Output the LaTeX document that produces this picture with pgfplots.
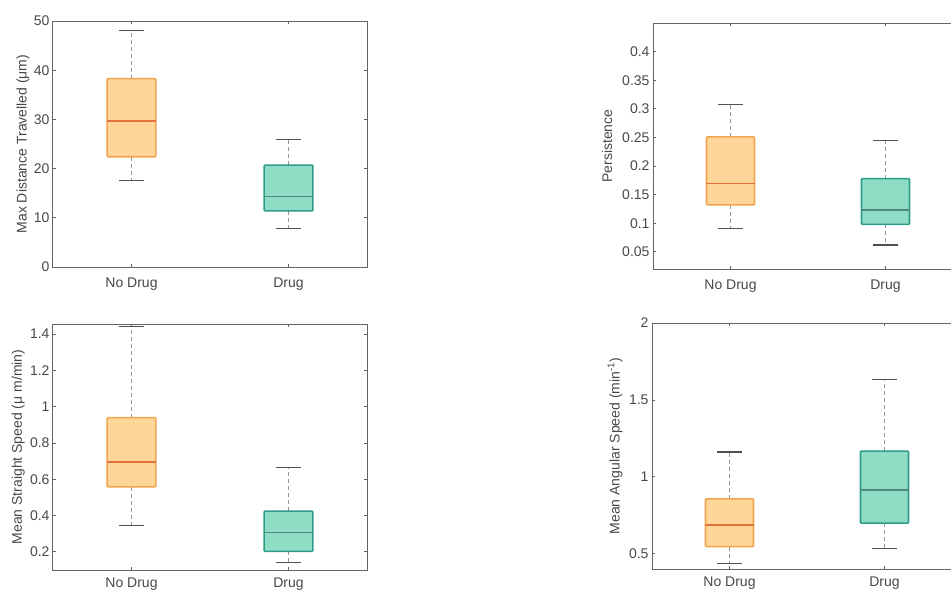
\documentclass[border=0pt]{standalone}
\usepackage{fontspec}
\setmainfont{Liberation Sans}
\usepackage{pgfplots}
\pgfplotsset{compat=1.18}
\usepgfplotslibrary{statistics}

\definecolor{ofill}{RGB}{255,214,153}
\definecolor{oedge}{RGB}{240,165,80}
\definecolor{omed}{RGB}{226,115,58}
\definecolor{tfill}{RGB}{143,221,197}
\definecolor{tedge}{RGB}{46,156,136}
\definecolor{tmed}{RGB}{79,138,124}
\definecolor{axgray}{RGB}{100,100,100}
\definecolor{txtgray}{RGB}{72,72,72}
\definecolor{wgray}{RGB}{150,150,150}
\definecolor{cgray}{RGB}{80,80,80}

\pgfplotsset{
  myax/.style={
    scale only axis,
    xmin=0.5, xmax=2.5,
    xtick={1,2}, xticklabels={No Drug, Drug},
    tick align=inside,
    major tick length=3pt,
    axis line style={draw=axgray, line width=1pt},
    tick style={draw=axgray, line width=0.7pt},
    scaled ticks=false,
    yticklabel style={/pgf/number format/fixed, /pgf/number format/precision=2},
    /pgf/number format/assume math mode=true,
    /pgf/number format/1000 sep={},
    tick label style={font=\fontsize{14}{16}\selectfont, text=txtgray},
    label style={font=\fontsize{14}{16}\selectfont, text=txtgray},
    x tick label style={yshift=-7.5pt},
    minor tick num=0,
    boxplot/draw direction=y,
  },
  bottomrow/.style={x tick label style={yshift=3.5pt}},
  boxplot/draw/lower whisker/.code={
    \draw[dash pattern=on 4pt off 3pt, wgray, line width=0.9pt] (boxplot box cs:\pgfplotsboxplotvalue{lower quartile},0.5) -- (boxplot box cs:\pgfplotsboxplotvalue{lower whisker},0.5);
    \draw[solid, cgray, line width=1.1pt] (boxplot whisker cs:\pgfplotsboxplotvalue{lower whisker},0) -- (boxplot whisker cs:\pgfplotsboxplotvalue{lower whisker},1);
  },
  boxplot/draw/upper whisker/.code={
    \draw[dash pattern=on 4pt off 3pt, wgray, line width=0.9pt] (boxplot box cs:\pgfplotsboxplotvalue{upper quartile},0.5) -- (boxplot box cs:\pgfplotsboxplotvalue{upper whisker},0.5);
    \draw[solid, cgray, line width=1.1pt] (boxplot whisker cs:\pgfplotsboxplotvalue{upper whisker},0) -- (boxplot whisker cs:\pgfplotsboxplotvalue{upper whisker},1);
  },
  nodrug/.style={
    boxplot/box extend=0.31, boxplot/whisker extend=0.155,
    boxplot/every box/.style={draw=oedge, fill=ofill, line width=1.6pt, rounded corners=1pt},
    boxplot/every median/.style={draw=omed, line width=1.4pt},
  },
  drug/.style={
    boxplot/box extend=0.31, boxplot/whisker extend=0.155,
    boxplot/every box/.style={draw=tedge, fill=tfill, line width=1.6pt, rounded corners=1pt},
    boxplot/every median/.style={draw=tmed, line width=1.4pt},
  },
}

\begin{document}
\begin{tikzpicture}[x=1pt,y=1pt]
\useasboundingbox (0,0) rectangle (951,-591);
\clip (0,0) rectangle (951,-591);

% Top-left: Max distance travelled
\begin{axis}[myax, at={(53pt,-267pt)}, anchor=south west, width=314pt, height=246pt,
  ymin=0, ymax=50, ytick={0,10,20,30,40,50},
  ylabel={Max Distance Travelled (μm)},
  ylabel style={at={(axis description cs:-0.0955,0.5)}, anchor=center}]
\addplot[nodrug, boxplot prepared={draw position=1, lower whisker=17.5, lower quartile=22.4, median=29.7, upper quartile=38.3, upper whisker=48.0}] coordinates {};
\addplot[drug, boxplot prepared={draw position=2, lower whisker=7.9, lower quartile=11.4, median=14.3, upper quartile=20.7, upper whisker=26.0}] coordinates {};
\end{axis}

% Top-right: Persistence
\begin{axis}[myax, at={(653pt,-269pt)}, anchor=south west, width=310pt, height=246pt,
  ymin=0.02, ymax=0.45, ytick={0.05,0.1,0.15,0.2,0.25,0.3,0.35,0.4},
  ylabel={Persistence},
  ylabel style={at={(axis description cs:-0.148,0.5)}, anchor=center}]
\addplot[nodrug, boxplot prepared={draw position=1, lower whisker=0.091, lower quartile=0.132, median=0.169, upper quartile=0.251, upper whisker=0.307}] coordinates {};
\addplot[drug, boxplot prepared={draw position=2, lower whisker=0.062, lower quartile=0.098, median=0.123, upper quartile=0.178, upper whisker=0.244}] coordinates {};
\end{axis}

% Bottom-left: Mean straight speed
\begin{axis}[myax, bottomrow, at={(53pt,-570pt)}, anchor=south west, width=314pt, height=246pt,
  ymin=0.1, ymax=1.455, ytick={0.2,0.4,0.6,0.8,1,1.2,1.4},
  ylabel={Mean Straight Speed (μ m/min)},
  ylabel style={at={(axis description cs:-0.111,0.5)}, anchor=center}]
\addplot[nodrug, boxplot prepared={draw position=1, lower whisker=0.343, lower quartile=0.558, median=0.694, upper quartile=0.939, upper whisker=1.439}] coordinates {};
\addplot[drug, boxplot prepared={draw position=2, lower whisker=0.139, lower quartile=0.203, median=0.308, upper quartile=0.424, upper whisker=0.664}] coordinates {};
\end{axis}

% Bottom-right: Mean angular speed
\begin{axis}[myax, bottomrow, at={(652pt,-569pt)}, anchor=south west, width=310pt, height=246pt,
  ymin=0.4, ymax=2, ytick={0.5,1,1.5,2},
  ylabel={Mean Angular Speed (min\textsuperscript{-1})},
  ylabel style={at={(axis description cs:-0.119,0.5)}, anchor=center}]
\addplot[nodrug, boxplot prepared={draw position=1, lower whisker=0.433, lower quartile=0.546, median=0.687, upper quartile=0.856, upper whisker=1.161}] coordinates {};
\addplot[drug, boxplot prepared={draw position=2, lower whisker=0.533, lower quartile=0.698, median=0.913, upper quartile=1.167, upper whisker=1.630}] coordinates {};
\end{axis}
\end{tikzpicture}
\end{document}
